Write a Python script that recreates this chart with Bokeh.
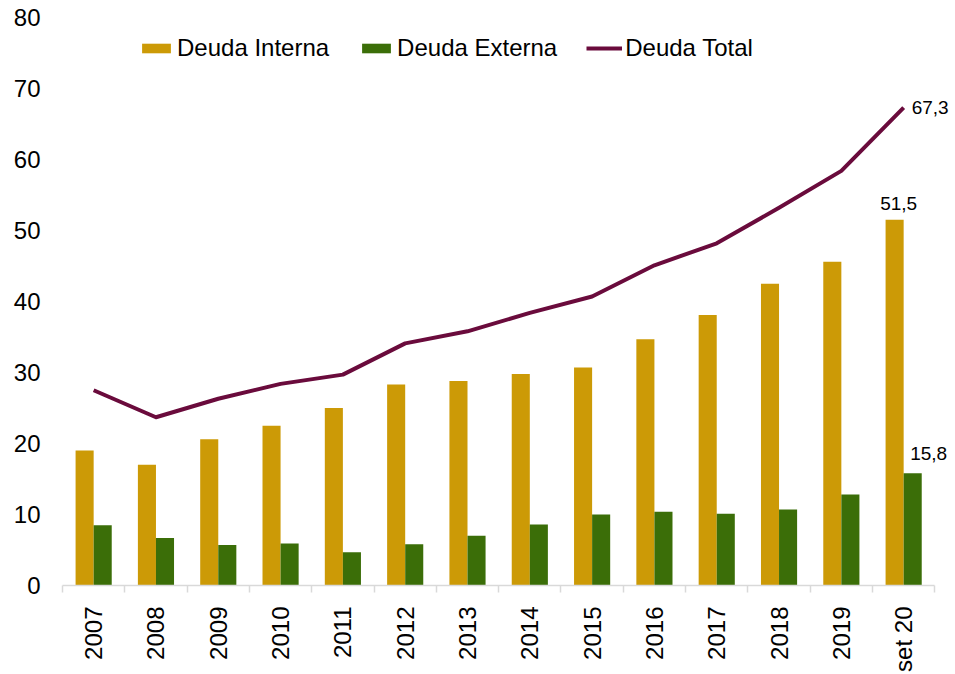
import math
from bokeh.plotting import figure
from bokeh.models import FixedTicker, Legend, LegendItem, Label, Range1d, ColumnDataSource
from bokeh.transform import dodge
from bokeh.embed import file_html
from bokeh.resources import INLINE

categories = ["2007", "2008", "2009", "2010", "2011", "2012", "2013",
              "2014", "2015", "2016", "2017", "2018", "2019", "set 20"]
deuda_interna = [19.0, 17.0, 20.6, 22.5, 25.0, 28.3, 28.8, 29.8, 30.7, 34.7, 38.1, 42.5, 45.6, 51.5]
deuda_externa = [8.5, 6.7, 5.7, 5.9, 4.7, 5.8, 7.0, 8.6, 10.0, 10.4, 10.1, 10.7, 12.8, 15.8]
deuda_total = [27.5, 23.7, 26.3, 28.4, 29.7, 34.1, 35.8, 38.4, 40.7, 45.1, 48.2, 53.2, 58.4, 67.3]
y_ticks = [0, 10, 20, 30, 40, 50, 60, 70, 80]

GOLD = "#CC9A06"
GREEN = "#3B6E08"
MAROON = "#6A0B3C"
FONT = "Liberation Sans"

n = len(categories)
idx = list(range(n))
src = ColumnDataSource(dict(x=idx, interna=deuda_interna, externa=deuda_externa, total=deuda_total))

p = figure(width=955, height=674, output_backend="svg", toolbar_location=None,
           x_range=Range1d(-0.5, n - 0.5 + 0.3), y_range=Range1d(0, 80),
           min_border_left=62, min_border_right=2, min_border_top=17, min_border_bottom=89)
p.outline_line_color = None
p.xgrid.grid_line_color = None
p.ygrid.grid_line_color = None

bw = 0.29
r_int = p.vbar(x=dodge("x", -bw / 2, range=p.x_range), top="interna", bottom=0, width=bw,
               source=src, fill_color=GOLD, line_color=None)
r_ext = p.vbar(x=dodge("x", bw / 2, range=p.x_range), top="externa", bottom=0, width=bw,
               source=src, fill_color=GREEN, line_color=None)
r_tot = p.line(x="x", y="total", source=src, line_color=MAROON, line_width=4, line_join="round")

# axes
p.xaxis.bounds = (-0.5, n - 0.5)
p.xaxis.ticker = FixedTicker(ticks=idx, minor_ticks=[i - 0.5 for i in range(n + 1)])
p.xaxis.major_label_overrides = {i: c for i, c in zip(idx, categories)}
p.xaxis.major_label_orientation = math.pi / 2
p.xaxis.major_tick_line_color = None
p.xaxis.major_tick_out = 0
p.xaxis.major_tick_in = 0
p.xaxis.minor_tick_out = 7
p.xaxis.minor_tick_in = 0
p.xaxis.minor_tick_line_color = "#D9D9D9"
p.xaxis.minor_tick_line_width = 1.5
p.xaxis.axis_line_color = "#D9D9D9"
p.xaxis.axis_line_width = 1.5
p.xaxis.major_label_text_font = FONT
p.xaxis.major_label_text_font_size = "24px"
p.xaxis.major_label_text_color = "#000000"
p.xaxis.major_label_standoff = 14

p.yaxis.ticker = FixedTicker(ticks=y_ticks)
p.yaxis.axis_line_color = None
p.yaxis.major_tick_line_color = None
p.yaxis.minor_tick_line_color = None
p.yaxis.major_tick_out = 0
p.yaxis.major_tick_in = 0
p.yaxis.major_label_text_font = FONT
p.yaxis.major_label_text_font_size = "24px"
p.yaxis.major_label_text_color = "#000000"
p.yaxis.major_label_standoff = 22

# value labels on last period
def fmt(v):
    return f"{v:.1f}".replace(".", ",")

last = n - 1
p.add_layout(Label(x=idx[last], y=deuda_total[last], text=fmt(deuda_total[last]),
                   x_offset=8, text_baseline="middle", text_align="left",
                   text_font=FONT, text_font_size="19px", text_color="#000000"))
p.add_layout(Label(x=idx[last] - bw / 2, y=deuda_interna[last], text=fmt(deuda_interna[last]),
                   x_offset=4, y_offset=10, text_baseline="bottom", text_align="center",
                   text_font=FONT, text_font_size="19px", text_color="#000000"))
p.add_layout(Label(x=idx[last] + bw / 2, y=deuda_externa[last], text=fmt(deuda_externa[last]),
                   x_offset=16, y_offset=13, text_baseline="bottom", text_align="center",
                   text_font=FONT, text_font_size="19px", text_color="#000000"))

legend = Legend(items=[LegendItem(label="Deuda Interna", renderers=[r_int]),
                       LegendItem(label="Deuda Externa", renderers=[r_ext]),
                       LegendItem(label="Deuda Total", renderers=[r_tot])],
                orientation="horizontal", location=(76, 523),
                glyph_width=36, glyph_height=12, label_standoff=3, spacing=29,
                padding=0, margin=0, border_line_color=None, background_fill_alpha=0,
                label_text_font=FONT, label_text_font_size="24px", label_text_color="#000000")
p.add_layout(legend, "center")

open("out.html", "w").write(file_html(p, INLINE))
